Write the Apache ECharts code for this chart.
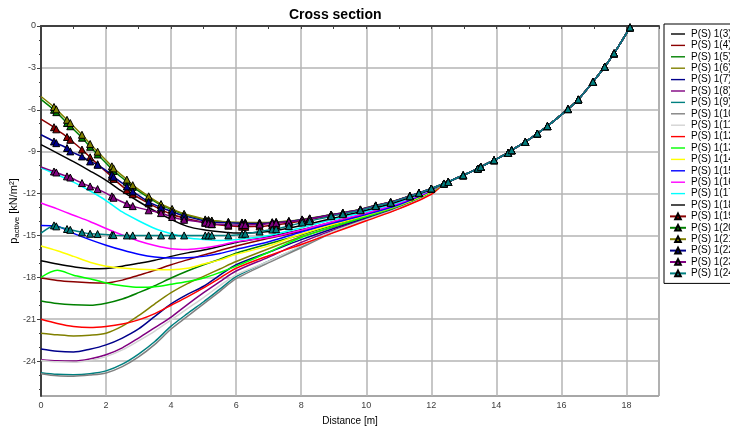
<!DOCTYPE html>
<html><head><meta charset="utf-8">
<script src="https://cdn.jsdelivr.net/npm/echarts@6/dist/echarts.min.js"></script>
<style>html,body{margin:0;padding:0;background:#fff}#c{width:730px;height:432px}</style>
</head><body><div id="c"></div>
<script>
// Distance grid for the plain lines (m)
const lineX = [0, 0.5, 1, 1.5, 2, 2.5, 3, 3.5, 4, 4.5, 5, 5.5, 6, 7, 8, 9, 10, 11, 12];
// Distance grid for the marker series (m)
const markX = [0, 0.4, 0.47, 0.8, 0.9, 1.26, 1.51, 1.74, 2.18, 2.23, 2.64, 2.82, 3.31, 3.69, 4.03, 4.4, 5.05, 5.15, 5.25, 5.76, 6.18, 6.28, 6.72, 7.11, 7.23, 7.62, 8.03, 8.26, 8.92, 9.28, 9.82, 10.29, 10.75, 11.34, 11.62, 12.0];
// Common tail shared by all series
const tailX = [12.39, 12.52, 12.98, 13.43, 13.52, 13.93, 14.36, 14.47, 14.89, 15.26, 15.57, 16.2, 16.52, 16.97, 17.33, 17.62, 18.11];
const tailY = [-11.28, -11.17, -10.69, -10.21, -10.09, -9.61, -9.09, -8.9, -8.3, -7.7, -7.17, -5.95, -5.26, -4.0, -2.92, -1.96, -0.1];

const p3  = [-16.82, -17.05, -17.25, -17.38, -17.36, -17.2, -17.0, -16.78, -16.5, -16.25, -16.04, -15.78, -15.5, -15.1, -14.6, -14.02, -13.42, -12.72, -11.78];
const p4  = [-18.05, -18.22, -18.32, -18.38, -18.4, -18.2, -17.85, -17.5, -17.1, -16.75, -16.4, -16.08, -15.76, -15.2, -14.7, -14.12, -13.5, -12.78, -11.8];
const p5  = [-19.7, -19.88, -19.97, -20.0, -19.85, -19.55, -19.1, -18.6, -18.05, -17.55, -17.1, -16.7, -16.27, -15.6, -14.95, -14.25, -13.58, -12.85, -11.85];
const p6  = [-22.0, -22.12, -22.2, -22.15, -22.0, -21.5, -20.75, -19.9, -19.1, -18.45, -17.93, -17.4, -16.87, -15.95, -15.1, -14.4, -13.7, -12.95, -11.9];
const p7  = [-23.13, -23.3, -23.35, -23.15, -22.84, -22.35, -21.7, -20.8, -19.9, -19.22, -18.64, -17.85, -17.1, -16.2, -15.3, -14.5, -13.75, -13.0, -11.95];
const p8  = [-23.9, -23.98, -24.0, -23.85, -23.55, -23.05, -22.35, -21.6, -20.85, -19.95, -19.1, -18.3, -17.55, -16.55, -15.5, -14.6, -13.82, -13.02, -11.98];
const p9  = [-24.83, -24.95, -24.97, -24.9, -24.7, -24.22, -23.5, -22.6, -21.5, -20.6, -19.75, -18.85, -17.95, -16.85, -15.8, -14.7, -13.85, -13.05, -12.0];
const p10 = [-24.9, -25.05, -25.08, -25.0, -24.85, -24.4, -23.7, -22.8, -21.7, -20.8, -19.9, -19.0, -18.1, -16.95, -15.88, -14.75, -13.88, -13.07, -12.0];
const p11 = [-23.95, -24.05, -24.08, -23.95, -23.68, -23.2, -22.55, -21.85, -21.05, -20.25, -19.45, -18.6, -17.82, -16.85, -15.75, -14.7, -13.88, -13.05, -12.0];
const p12 = [-21.0, -21.3, -21.52, -21.6, -21.52, -21.35, -21.05, -20.6, -20.0, -19.4, -18.76, -18.05, -17.35, -16.45, -15.65, -14.8, -13.95, -13.1, -12.05];
const p13 = [-18.0, -17.5, -17.85, -18.1, -18.4, -18.6, -18.72, -18.68, -18.5, -18.3, -18.05, -17.65, -17.2, -16.2, -15.15, -14.35, -13.65, -12.9, -11.9];
const p14 = [-15.76, -16.1, -16.5, -16.92, -17.2, -17.33, -17.42, -17.45, -17.45, -17.35, -17.05, -16.75, -16.35, -15.75, -14.9, -14.2, -13.55, -12.85, -11.85];
const p15 = [-14.28, -14.35, -14.85, -15.3, -15.7, -16.05, -16.35, -16.55, -16.62, -16.6, -16.5, -16.3, -16.0, -15.45, -14.75, -14.1, -13.5, -12.8, -11.8];
const p16 = [-12.68, -13.1, -13.55, -14.0, -14.5, -14.97, -15.4, -15.72, -15.95, -16.0, -15.9, -15.7, -15.45, -15.15, -14.62, -14.0, -13.4, -12.7, -11.77];
const p17 = [-10.15, -10.65, -11.18, -11.8, -12.5, -13.32, -13.95, -14.5, -14.88, -15.17, -15.3, -15.36, -15.3, -15.0, -14.45, -13.85, -13.28, -12.62, -11.72];
const p18 = [-8.5, -9.1, -9.72, -10.37, -11.05, -11.85, -12.57, -13.25, -13.85, -14.35, -14.6, -14.74, -14.83, -14.72, -14.3, -13.75, -13.2, -12.55, -11.7];

const p19 = [-6.67, -7.25, -7.4, -7.95, -8.15, -8.85, -9.4, -9.9, -10.8, -10.95, -11.75, -12.05, -12.7, -13.15, -13.5, -13.75, -14.1, -14.15, -14.2, -14.3, -14.37, -14.38, -14.35, -14.28, -14.25, -14.12, -13.96, -13.86, -13.56, -13.42, -13.17, -12.88, -12.64, -12.19, -11.97, -11.64];
const p20 = [-5.25, -6.0, -6.17, -6.95, -7.18, -8.0, -8.65, -9.2, -10.25, -10.38, -11.15, -11.52, -12.3, -12.83, -13.15, -13.5, -13.88, -13.92, -13.95, -14.05, -14.1, -14.1, -14.1, -14.07, -14.05, -13.98, -13.87, -13.79, -13.52, -13.39, -13.15, -12.86, -12.62, -12.18, -11.96, -11.64];
const p21 = [-5.05, -5.8, -5.97, -6.72, -6.95, -7.79, -8.45, -9.0, -10.05, -10.2, -11.0, -11.4, -12.2, -12.75, -13.1, -13.45, -13.85, -13.9, -13.93, -14.03, -14.07, -14.08, -14.08, -14.05, -14.03, -13.96, -13.85, -13.77, -13.5, -13.37, -13.13, -12.84, -12.6, -12.17, -11.95, -11.64];
const p22 = [-7.79, -8.27, -8.39, -8.74, -8.98, -9.34, -9.7, -9.94, -10.65, -10.8, -11.49, -11.85, -12.6, -13.0, -13.3, -13.6, -13.97, -14.02, -14.05, -14.1, -14.13, -14.14, -14.15, -14.1, -14.08, -14.0, -13.88, -13.8, -13.52, -13.39, -13.15, -12.86, -12.62, -12.18, -11.96, -11.64];
const p23 = [-10.1, -10.42, -10.49, -10.77, -10.85, -11.25, -11.49, -11.68, -12.2, -12.3, -12.75, -12.9, -13.2, -13.4, -13.68, -13.88, -14.07, -14.15, -14.18, -14.23, -14.25, -14.25, -14.22, -14.15, -14.12, -14.02, -13.9, -13.82, -13.54, -13.41, -13.16, -12.87, -12.63, -12.18, -11.96, -11.64];
const p24 = [-14.83, -14.28, -14.35, -14.54, -14.6, -14.78, -14.88, -14.9, -14.97, -14.98, -15.0, -15.0, -15.0, -15.0, -15.0, -15.0, -15.0, -15.0, -15.0, -15.0, -14.92, -14.88, -14.72, -14.58, -14.55, -14.33, -14.07, -13.98, -13.62, -13.48, -13.2, -12.9, -12.66, -12.2, -11.97, -11.64];

const lineNames = ['P(S) 1(3)','P(S) 1(4)','P(S) 1(5)','P(S) 1(6)','P(S) 1(7)','P(S) 1(8)','P(S) 1(9)','P(S) 1(10)','P(S) 1(11)','P(S) 1(12)','P(S) 1(13)','P(S) 1(14)','P(S) 1(15)','P(S) 1(16)','P(S) 1(17)','P(S) 1(18)'];
const markNames = ['P(S) 1(19)','P(S) 1(20)','P(S) 1(21)','P(S) 1(22)','P(S) 1(23)','P(S) 1(24)'];
const lineVals = [p3,p4,p5,p6,p7,p8,p9,p10,p11,p12,p13,p14,p15,p16,p17,p18];
const markVals = [p19,p20,p21,p22,p23,p24];
const lineColors = ['#000000','#8b0000','#008000','#808000','#00008b','#800080','#008080','#808080','#d3d3d3','#ff0000','#00ff00','#ffff00','#0000ff','#ff00ff','#00ffff','#000000'];
const markColors = ['#8b0000','#008000','#808000','#00008b','#800080','#008080'];
const yTicks = [0,-3,-6,-9,-12,-15,-18,-21,-24];
const yMinor = [-1,-2,-4,-5,-7,-8,-10,-11,-13,-14,-16,-17,-19,-20,-22,-23,-25,-26];

const tail = tailX.map((x,i)=>[x, tailY[i]]);
const series = [];
lineVals.forEach((ys,k)=>{
  series.push({
    name: lineNames[k], type:'line', symbol:'none', smooth:0.3,
    lineStyle:{width:1.5, color:lineColors[k]}, itemStyle:{color:lineColors[k]},
    data: lineX.map((x,i)=>[x, ys[i]]).concat(tail)
  });
});
markVals.forEach((ys,k)=>{
  const head = markX.map((x,i)=> i===0 ? {value:[x, ys[i]], symbol:'none'} : [x, ys[i]]);
  series.push({
    name: markNames[k], type:'line', symbol:'triangle', symbolSize:7, showSymbol:true, smooth:0.2,
    lineStyle:{width:1.5, color:markColors[k]},
    itemStyle:{color:markColors[k], borderColor:'#000', borderWidth:1},
    data: head.concat(tail)
  });
});

const lineIcon = 'path://M0,0 M16,8 M0,3.2 L16,3.2 L16,4.8 L0,4.8 Z';
const legendData = lineNames.map(n=>({name:n, icon:lineIcon})).concat(markNames.map(n=>({name:n})));

const font = 'Liberation Sans, Arial, sans-serif';
const chart = echarts.init(document.getElementById('c'), null, {renderer:'canvas'});
chart.setOption({
  animation:false,
  backgroundColor:'#fff',
  title:{text:'Cross section', left:284, top:3, textStyle:{fontFamily:font, fontWeight:'bold', fontSize:14, color:'#000'}},
  legend:{
    orient:'vertical', left:664, top:24, padding:[5,30,5,5],
    itemWidth:16, itemHeight:7, itemGap:1.4,
    borderColor:'#000', borderWidth:1,
    textStyle:{fontSize:10, fontFamily:font, color:'#000'},
    data: legendData
  },
  grid:{left:41, right:71, top:26, bottom:36, show:true, borderColor:'#505050', borderWidth:1, outerBoundsMode:'none', containLabel:false},
  xAxis:[{
    type:'value', min:0, max:19, interval:2,
    name:'Distance [m]', nameLocation:'middle', nameGap:20, nameMoveOverlap:false,
    nameTextStyle:{fontFamily:font, fontSize:10, color:'#000'},
    axisLine:{show:true, lineStyle:{color:'#404040', width:2}},
    axisTick:{show:true, length:3, lineStyle:{color:'#404040'}},
    minorTick:{show:true, splitNumber:2, length:3, lineStyle:{color:'#404040'}},
    axisLabel:{fontFamily:font, fontSize:9, color:'#404040', margin:5, showMaxLabel:false},
    splitLine:{show:true, lineStyle:{color:'#b4b4b4', width:1.5}}
  }],
  yAxis:[{
    type:'value', min:-26.5, max:0,
    name:'{a|p}{b|active}{a| [kN/m²]}', nameLocation:'middle', nameGap:20, nameRotate:90, nameMoveOverlap:false,
    nameTextStyle:{rich:{a:{fontFamily:font, fontSize:11, color:'#000', lineHeight:15, verticalAlign:'middle'},
                         b:{fontFamily:font, fontSize:8, color:'#000', lineHeight:15, verticalAlign:'bottom', padding:[6,0,0,0]}}},
    axisLine:{show:true, lineStyle:{color:'#404040', width:2}},
    axisTick:{show:true, length:4, customValues:yTicks, lineStyle:{color:'#404040'}},
    axisLabel:{fontFamily:font, fontSize:9, color:'#404040', margin:5, customValues:yTicks},
    splitLine:{show:true, lineStyle:{color:'#b4b4b4', width:1.5}}
  },{
    type:'value', min:-26.5, max:0, position:'left',
    axisLine:{show:false}, axisLabel:{show:false}, splitLine:{show:false},
    axisTick:{show:true, length:2, customValues:yMinor, lineStyle:{color:'#404040'}}
  }],
  series: series
});
</script></body></html>
